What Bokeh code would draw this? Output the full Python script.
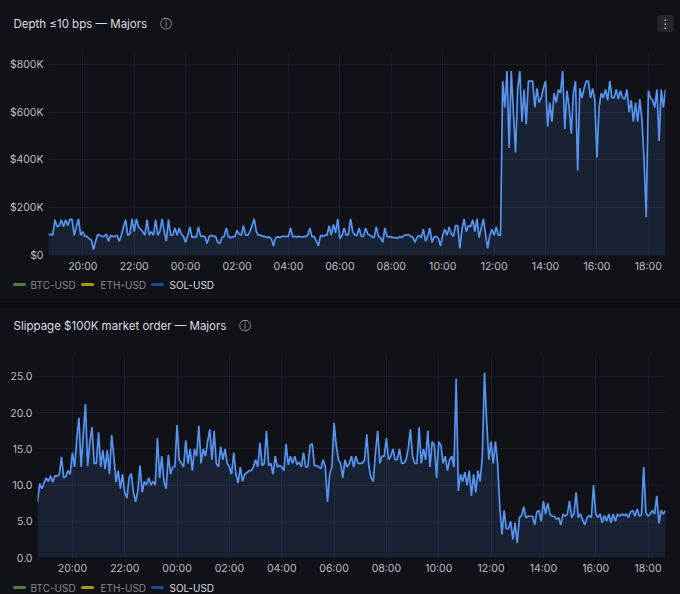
from bokeh.plotting import figure, curdoc
from bokeh.layouts import column
from bokeh.core.properties import value
from bokeh.models import FixedTicker, Div, CustomJS
from bokeh.embed import file_html
from bokeh.resources import INLINE

PAGE = "#0b0c0f"
PANEL = "#111217"
BLUE = "#5794f2"
WIDTH = 680

tick_hours = [20, 22, 24, 26, 28, 30, 32, 34, 36, 38, 40, 42]
tick_labels = ["20:00", "22:00", "00:00", "02:00", "04:00", "06:00", "08:00", "10:00", "12:00", "14:00", "16:00", "18:00"]
series_names = ["BTC-USD", "ETH-USD", "SOL-USD"]
series_colors = ["#4c7f3d", "#b3920f", "#134a9e"]
depth_ticks = [0, 200, 400, 600, 800]
depth_labels = ["$0", "$200K", "$400K", "$600K", "$800K"]
slip_ticks = [0, 5, 10, 15, 20, 25]
slip_labels = ["0.0", "5.0", "10.0", "15.0", "20.0", "25.0"]

# SOL-USD depth in $K, one reading every 5 minutes from 18:40
depth = [
    85,90,85,150,120,125,150,120,150,125,153,150,85,120,153,85,100,80,80,70,65,25,60,88,
    85,80,80,90,60,85,80,80,85,60,85,120,150,85,90,153,100,153,120,110,100,85,150,85,
    100,85,150,85,100,153,100,60,150,85,85,115,85,115,90,80,55,85,120,75,80,75,120,80,
    80,80,50,80,85,80,80,55,50,75,80,115,78,75,78,80,105,90,85,125,85,85,100,125,
    153,100,85,85,80,80,75,78,70,40,75,78,75,80,80,80,80,115,78,80,78,80,78,78,
    80,85,115,78,80,60,40,85,80,85,85,125,85,130,95,153,70,85,115,85,88,153,100,85,
    85,115,80,80,115,90,85,78,75,120,80,75,55,115,80,78,78,75,75,72,80,75,85,85,
    88,80,78,55,75,85,75,110,60,80,115,55,78,80,72,40,85,110,85,120,90,80,125,125,
    30,110,153,100,125,120,150,100,153,75,115,153,90,30,85,110,85,120,85,85,730,620,772,450,
    772,600,430,700,772,560,695,550,730,730,730,620,700,640,660,700,730,540,640,560,680,640,695,680,
    772,530,690,620,510,680,730,355,700,660,700,730,730,660,700,650,410,620,680,660,695,650,730,660,
    660,695,655,690,660,655,695,600,650,560,640,560,655,570,400,160,690,660,650,620,695,480,695,620,695,
]

# SOL-USD slippage in bps, same 5-minute readings
slippage = [
    7.7,10.2,9.5,10.3,11,10.5,11.3,10.4,11.3,11.2,11.5,13.9,11,11.2,12,11.5,14.5,12.5,16.3,19.3,12.5,17,21.2,12.6,
    16,18,13,13,17.3,12.5,14.8,12.2,14.8,11.5,16.9,14,10.4,12,9.5,11.5,9,8.2,11,11.6,9,7.7,9.2,12.7,
    9,10.5,10,11,10,10.5,10,16.5,11,14,10.5,9.5,14.2,11.5,12.5,12.5,18.3,13.5,13,12.5,16.2,13,15,12,
    15,14,18.2,13,15,14,16,17.7,13.5,17.5,13,12.5,15.3,13.5,15,13,12.5,11.5,14.5,11.5,10.3,12.5,10.5,11.5,
    11.7,12,12,12.5,13.5,12.5,15.8,12.7,13,17.5,12.7,13,11.5,14,12.5,12.7,12.5,12,15.7,12.8,14,13,14,12.8,
    13.2,12.5,14.5,12.5,12.5,15.5,15.7,12.7,12.7,12.5,12.3,13.5,12.5,7.7,11.5,12.5,18.6,15.5,13.5,13,11,13.5,12.5,13,
    14,12.5,14,13,13,13,13.5,17,12.5,11,10.5,14.5,17.5,13,14,14,16.5,13.5,14,15,13.5,13.5,15,13,
    13,13.5,15,17.7,14,13,13,18,13,15,13.5,17.5,12.5,16,15.5,11,16,15.5,13,14,12,13.5,14,12.5,
    24.7,9.2,11.5,10.5,11.8,10,12,8.5,11.5,9,12,10.5,14,25.5,18.7,13.5,16,13,16,13,7,3.2,6.5,4,
    4,5,2.5,4.8,2,5.5,5.8,7,5.5,5.7,5.7,5.7,4.5,6.3,6.5,5,7.8,6,7.5,6,5.7,5.7,5.3,5.5,
    4.5,6,5.7,6,7.8,5.5,6,9,5.5,6,5.2,4.5,5.5,5.8,5.5,10,6,5.5,6,4.8,5.8,5,6,4.8,
    6,5,6,5.7,6,5.8,6,5.5,6.3,6.5,5.7,6.7,5.7,5.9,12.5,6.2,5.7,6,6.5,6,8.5,4.7,6.5,6,6.5,
]

START_HOUR = 18 + 40 / 60


def strip(height):
    """A figure whose frame is the whole strip, with ranges in pixels (y down)."""
    s = figure(width=WIDTH, height=height, output_backend="svg", toolbar_location=None,
               x_range=(0, WIDTH), y_range=(height, 0), frame_align=False,
               background_fill_color=PANEL, border_fill_color=PANEL, outline_line_color=None,
               min_border=0, x_axis_type=None, y_axis_type=None)
    s.grid.visible = False
    return s


def header(height, title, icon_x, title_y, menu=False):
    h = strip(height)
    h.text([13], [title_y], text=[title], text_color="#dcdde1", text_font=value("Inter"),
           text_font_size="11.5px", text_baseline="middle", text_align="left")
    h.text([icon_x], [title_y], text=["ⓘ"], text_color="#a8aab0", text_font=value("DejaVu Sans"),
           text_font_size="12px", text_baseline="middle", text_align="center")
    if menu:
        h.rect([665], [title_y], width=16, height=17, fill_color="#25272d", line_color=None,
               border_radius=3)
        h.text([665], [title_y], text=["⋮"], text_color="#d8d9dd", text_font=value("DejaVu Sans"),
               text_font_size="12px", text_baseline="middle", text_align="center")
    return h


def legend_strip(height, text_y):
    s = strip(height)
    swatch_start = [14, 82, 152]
    text_start = [30, 100, 169]
    text_colors = ["#85878d", "#85878d", "#d8d9dd"]
    for name, color, sx, tx, tc in zip(series_names, series_colors, swatch_start, text_start, text_colors):
        s.segment([sx], [text_y], [sx + 10], [text_y], line_color=color, line_width=3, line_cap="round")
        s.text([tx], [text_y], text=[name], text_color=tc, text_font=value("Inter"),
               text_font_size="10px", text_baseline="middle", text_align="left")
    return s


def chart(values, y_end, yticks, ylabels, height, left):
    hours = [START_HOUR + i * 5 / 60 for i in range(len(values))]
    zeros = [0] * len(values)
    p = figure(width=WIDTH, height=height, output_backend="svg", toolbar_location=None,
               x_range=(START_HOUR, hours[-1]), y_range=(0, y_end), frame_align=False,
               background_fill_color=PANEL, border_fill_color=PANEL, outline_line_color=None,
               min_border_left=left, min_border_right=15, min_border_top=0, min_border_bottom=23)
    p.varea(hours, zeros, values, fill_color=BLUE, fill_alpha=0.13)
    p.line(hours, values, line_color=BLUE, line_width=1.7)

    p.xaxis.ticker = FixedTicker(ticks=tick_hours)
    p.xaxis.major_label_overrides = dict(zip(tick_hours, tick_labels))
    p.yaxis.ticker = FixedTicker(ticks=yticks)
    p.yaxis.major_label_overrides = dict(zip(yticks, ylabels))
    for ax in (p.xaxis[0], p.yaxis[0]):
        ax.axis_line_color = None
        ax.major_tick_line_color = None
        ax.minor_tick_line_color = None
        ax.major_tick_out = 0
        ax.major_tick_in = 0
        ax.minor_tick_out = 0
        ax.minor_tick_in = 0
        ax.major_label_text_color = "#bcbec4"
        ax.major_label_text_font = "Inter"
        ax.major_label_text_font_size = "10.5px"
    p.xaxis.major_label_standoff = 4
    p.yaxis.major_label_standoff = 5
    for g in (p.xgrid[0], p.ygrid[0]):
        g.grid_line_color = "#ccccdc"
        g.grid_line_alpha = 0.07
    return p


p = column(
    header(52, "Depth ≤10 bps — Majors", 165, 23, menu=True),
    chart(depth, 850, depth_ticks, depth_labels, 226, 48),
    legend_strip(25, 6),
    Div(width=WIDTH, height=5, styles={"background-color": PAGE}, margin=0),
    header(47, "Slippage $100K market order — Majors", 244, 17),
    chart(slippage, 27.9, slip_ticks, slip_labels, 225, 37),
    legend_strip(14, 7),
    spacing=0,
)
doc = curdoc()
doc.add_root(p)
doc.js_on_event("document_ready", CustomJS(code=f"document.documentElement.style.background='{PANEL}';document.body.style.background='{PANEL}';"))
open("out.html", "w").write(file_html(p, INLINE))
